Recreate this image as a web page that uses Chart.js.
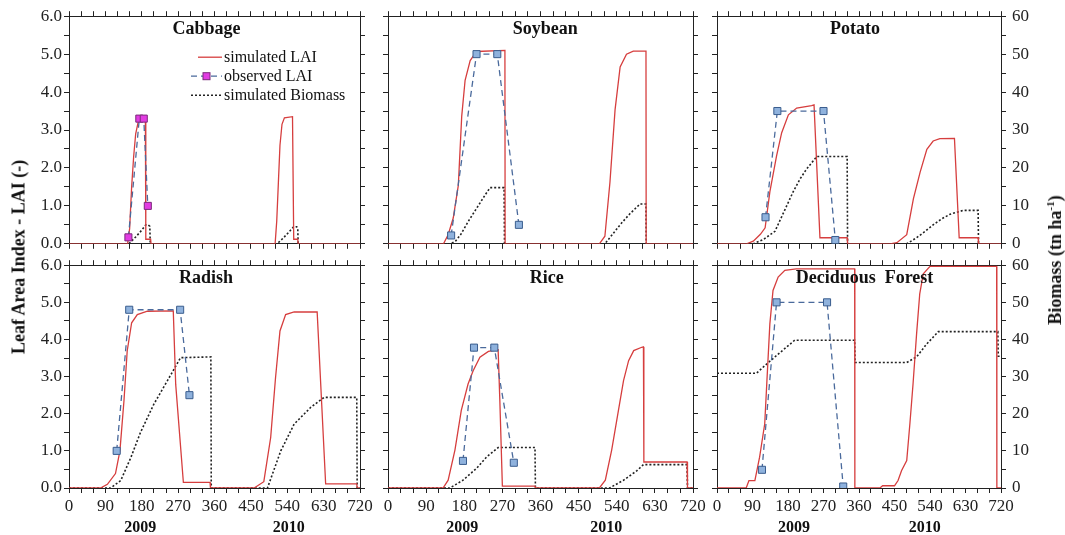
<!DOCTYPE html>
<html>
<head>
<meta charset="utf-8">
<script src="https://cdn.jsdelivr.net/npm/chart.js@4.4.1/dist/chart.umd.min.js"></script>
<style>
  body { margin: 0; background: #fff; width: 1065px; height: 535px; position: relative; overflow: hidden; font-family: "Liberation Serif", serif; }
  canvas { position: absolute; }
  .axis-title { position: absolute; font-weight: bold; font-size: 18px; color: #111; white-space: nowrap;
                transform: translate(-50%, -50%) rotate(-90deg); }
  .axis-title sup { font-size: 11px; }
</style>
</head>
<body>
<canvas id="p1"></canvas>
<canvas id="p2"></canvas>
<canvas id="p3"></canvas>
<canvas id="p4"></canvas>
<canvas id="p5"></canvas>
<canvas id="p6"></canvas>
<div class="axis-title" style="left:19px; top:257px;">Leaf Area Index - LAI (-)</div>
<div class="axis-title" style="left:1055px; top:260px;">Biomass (tn ha<sup>-1</sup>)</div>

<script>
// days since 1 Jan 2009, LAI (-) and biomass (tn/ha)
const dayTicks = [0, 90, 180, 270, 360, 450, 540, 630, 720];
const laiTicks = [0, 1, 2, 3, 4, 5, 6];
const bioTicks = [0, 10, 20, 30, 40, 50, 60];
const years = ['2009', '2010'];
const seriesNames = ['simulated LAI', 'observed LAI', 'simulated Biomass'];

const cabbageLai = [[0,0],[145,0],[150,0.4],[155,1.5],[160,2.3],[165,2.9],[171,3.2],[178,3.27],[189,3.3],[190,0.12],[202,0.12],[203,0],
  [510,0],[514,0.6],[518,1.6],[522,2.6],[527,3.15],[533,3.32],[553,3.35],[556,0.12],[566,0.12],[567,0],[720,0]];
const cabbageObs = [[147,0.17],[174,3.3],[185,3.3],[195,1.0]];
const cabbageBio = [[0,0],[148,0],[165,1.8],[180,3.6],[190,5.0],[196,5.0],[200,4.6],[201,0],
  [515,0],[530,1.5],[545,3.2],[556,4.5],[563,4.5],[566,4.2],[567,0],[720,0]];

const soybeanLai = [[0,0],[131,0],[142,0.24],[154,0.68],[166,1.54],[174,3.36],[182,4.31],[194,4.83],[209,5.07],[276,5.1],[276.5,0],
  [499,0],[512,0.2],[524,1.63],[536,3.53],[548,4.66],[563,5.0],[579,5.08],[609,5.08],[609.5,0],[720,0]];
const soybeanObs = [[149,0.22],[209,5.0],[258,5.0],[309,0.5]];
const soybeanBio = [[0,0],[148,0],[160,0.8],[172,2.5],[190,6],[210,9.5],[230,13],[241,14.8],[274,14.8],[275,0],
  [512,0],[530,2.5],[550,5.3],[570,7.8],[595,10.5],[609,10.5],[609.5,0],[720,0]];

const potatoLai = [[0,0],[75,0],[92,0.07],[110,0.25],[122,0.42],[134,1.37],[151,2.32],[164,2.93],[181,3.4],[202,3.58],[240,3.64],[246,3.66],[261,0.16],[330,0.16],[331,0],
  [439,0],[456,0.03],[481,0.24],[498,1.19],[515,1.89],[532,2.49],[548,2.71],[565,2.77],[602,2.78],[614,0.16],[662,0.16],[663,0],[720,0]];
const potatoObs = [[123,0.7],[153,3.5],[270,3.5],[300,0.1]];
const potatoBio = [[0,0],[92,0],[117,1.1],[147,3.3],[170,8.5],[193,13.7],[210,17],[227,19.7],[253,23],[330,23],[331,0],
  [481,0],[506,1.6],[528,3.3],[548,5.0],[570,6.6],[591,7.8],[624,8.8],[662,8.8],[663,0],[720,0]];

const radishLai = [[0,0],[78,0],[95,0.1],[115,0.39],[126,1.0],[136,2.35],[144,3.69],[155,4.45],[169,4.67],[194,4.76],[258,4.77],[264,2.79],[283,0.15],[349,0.15],[350,0],
  [458,0],[482,0.17],[499,1.36],[511,2.97],[522,4.23],[536,4.67],[557,4.74],[614,4.74],[635,0.11],[712,0.11],[713,0],[720,0]];
const radishObs = [[118,1.0],[149,4.8],[275,4.8],[298,2.5]];
const radishBio = [[0,0],[103,0],[128,2.0],[153,8.2],[177,15.0],[210,22.6],[243,28.8],[276,35.1],[351,35.3],[352,0],
  [491,0],[524,10.0],[557,17.2],[598,21.7],[631,24.4],[712,24.4],[713,0],[720,0]];

const riceLai = [[0,0],[130,0],[142,0.21],[158,1.02],[173,2.09],[189,2.8],[201,3.16],[217,3.52],[237,3.68],[260,3.72],[264,2.36],[270,0.05],[347,0.05],[348,0],
  [499,0],[513,0.21],[528,1.02],[544,2.09],[556,2.89],[568,3.43],[580,3.7],[599,3.79],[603,3.8],[604,0.7],[706,0.7],[707,0],[720,0]];
const riceObs = [[177,0.73],[203,3.78],[251,3.78],[297,0.68]];
const riceBio = [[0,0],[146,0],[177,2.1],[209,5.3],[233,8.4],[260,10.9],[347,10.9],[348,0],
  [523,0],[556,2.1],[587,4.6],[603,6.3],[706,6.3],[707,0],[720,0]];

const forestLai = [[0,0],[74,0],[81,0.2],[96,0.2],[108,0.83],[121,1.73],[127,2.98],[134,4.42],[142,5.32],[155,5.68],[172,5.86],[201,5.9],[349,5.9],[349.5,0],
  [413,0],[420,0.06],[450,0.06],[459,0.2],[468,0.47],[481,0.74],[489,1.73],[497,2.8],[506,4.15],[514,5.23],[523,5.77],[540,5.97],[709,5.97],[709.5,0],[720,0]];
const forestObs = [[114,0.49],[151,5.0],[279,5.0],[320,0.04]];
const forestBio = [[0,30.9],[100,30.9],[125,33.3],[159,36.4],[197,39.8],[349,39.8],[350,33.8],
  [481,33.8],[506,35.3],[531,38.7],[561,42.1],[712,42.1],[713,35.5],[720,35.5]];

const serif = '"Liberation Serif", "Times New Roman", serif';
const ink = '#222';

const panels = [
  { id: 'p1', name: 'Cabbage',          box: [69, 15, 291, 231],  col: 0, row: 0, titleAt: 340, lai: cabbageLai, obs: cabbageObs, bio: cabbageBio, key: true, fill: '#e23ce2', edge: '#7a2a7a' },
  { id: 'p2', name: 'Soybean',          box: [388, 15, 305, 231], col: 1, row: 0, titleAt: 371, lai: soybeanLai, obs: soybeanObs, bio: soybeanBio },
  { id: 'p3', name: 'Potato',           box: [717, 15, 284, 231], col: 2, row: 0, titleAt: 350, lai: potatoLai,  obs: potatoObs,  bio: potatoBio },
  { id: 'p4', name: 'Radish',           box: [69, 263, 291, 225], col: 0, row: 1, titleAt: 339, lai: radishLai,  obs: radishObs,  bio: radishBio,  yearsAt: [176, 544] },
  { id: 'p5', name: 'Rice',             box: [388, 263, 305, 225],col: 1, row: 1, titleAt: 375, lai: riceLai,    obs: riceObs,    bio: riceBio,    yearsAt: [175, 515] },
  { id: 'p6', name: 'Deciduous  Forest',box: [717, 263, 284, 225],col: 2, row: 1, titleAt: 374, lai: forestLai,  obs: forestObs,  bio: forestBio,  yearsAt: [195, 527] }
];

const xy = pts => pts.map(([x, y]) => ({ x, y }));

// titles, year captions and the key drawn on top of each panel
const panelText = {
  id: 'panelText',
  afterDatasetsDraw(chart, args, opts) {
    const { ctx, chartArea: a, scales } = chart;
    ctx.save();
    ctx.fillStyle = '#111';
    ctx.textAlign = 'center';
    ctx.textBaseline = 'middle';
    ctx.font = 'bold 18px ' + serif;
    ctx.fillText(opts.title, scales.x.getPixelForValue(opts.titleAt), a.top + 13);
    if (opts.yearsAt) {
      ctx.font = 'bold 16px ' + serif;
      opts.yearsAt.forEach((d, i) => ctx.fillText(years[i], scales.x.getPixelForValue(d), a.bottom + 40));
    }
    if (opts.key) {
      const [obs, lai, bio] = chart.data.datasets;
      const x0 = a.left + 155, y0 = a.top + 41;
      [lai, obs, bio].forEach((ds, i) => {
        const y = y0 + i * 19;
        ctx.strokeStyle = ds.borderColor;
        ctx.lineWidth = ds.borderWidth;
        ctx.setLineDash(ds.borderDash || []);
        ctx.beginPath();
        ctx.moveTo(x0 - (ds === lai ? 26 : 33), y);
        ctx.lineTo(x0 - 2, y);
        ctx.stroke();
        ctx.setLineDash([]);
        if (ds === obs) {
          ctx.fillStyle = ds.pointBackgroundColor;
          ctx.strokeStyle = ds.pointBorderColor;
          ctx.lineWidth = 1;
          ctx.fillRect(x0 - 21, y - 3.5, 7, 7);
          ctx.strokeRect(x0 - 21, y - 3.5, 7, 7);
        }
        ctx.fillStyle = '#111';
        ctx.font = '16px ' + serif;
        ctx.textAlign = 'left';
        ctx.fillText(ds.label, x0, y + 1);
      });
    }
    ctx.restore();
  }
};
Chart.register(panelText);

function dayAxis(pos, withLabels, size) {
  return {
    type: 'linear', position: pos, min: 0, max: 720,
    ticks: {
      stepSize: 30, autoSkip: false, maxRotation: 0, padding: 3,
      font: { family: serif, size: 17 }, color: ink,
      callback: v => (withLabels && dayTicks.includes(v)) ? String(v) : ''
    },
    grid: { drawOnChartArea: false, tickLength: 5, color: ink },
    border: { color: ink },
    afterFit: s => { s.height = size; }
  };
}

function valueAxis(pos, max, step, labels, fmt, size) {
  return {
    type: 'linear', position: pos, min: 0, max: max,
    ticks: {
      stepSize: step, autoSkip: false, padding: pos === 'left' ? 2 : 6,
      font: { family: serif, size: 17 }, color: ink,
      callback: v => (fmt && labels.includes(v)) ? fmt(v) : ''
    },
    grid: { drawOnChartArea: false, tickLength: 5, color: ink },
    border: { color: ink },
    afterFit: s => { s.width = size; }
  };
}

panels.forEach(p => {
  const [bx, by, bw, bh] = p.box;
  const L = p.col === 0 ? 69 : 16;
  const R = p.col === 2 ? 45 : 16;
  const T = p.row === 0 ? 15 : 14;
  const B = p.row === 1 ? 47 : 14;
  const cv = document.getElementById(p.id);
  cv.width = L + bw + R;
  cv.height = T + bh + B;
  cv.style.left = (bx - L) + 'px';
  cv.style.top = (by - T) + 'px';

  new Chart(cv, {
    type: 'line',
    data: {
      datasets: [
        {
          label: seriesNames[1], data: xy(p.obs), yAxisID: 'y',
          borderColor: '#4a6a9c', borderWidth: 1.3, borderDash: [6, 4],
          pointStyle: 'rect', pointRadius: 5,
          pointBackgroundColor: p.fill || '#8fb2dd', pointBorderColor: p.edge || '#3a5d8e', pointBorderWidth: 1
        },
        {
          label: seriesNames[0], data: xy(p.lai), yAxisID: 'y',
          borderColor: 'rgb(214,62,62)', borderWidth: 1.3, pointRadius: 0
        },
        {
          label: seriesNames[2], data: xy(p.bio), yAxisID: 'y2',
          borderColor: '#222', borderWidth: 1.6, borderDash: [2, 2], pointRadius: 0
        }
      ]
    },
    options: {
      responsive: false,
      animation: false,
      layout: { padding: 0 },
      scales: {
        x: dayAxis('bottom', p.row === 1, B),
        x2: dayAxis('top', false, T),
        y: valueAxis('left', 6, 0.5, laiTicks, p.col === 0 ? v => v.toFixed(1) : null, L),
        y2: valueAxis('right', 60, 5, bioTicks, p.col === 2 ? v => String(v) : null, R)
      },
      plugins: {
        legend: { display: false },
        tooltip: { enabled: false },
        panelText: { title: p.name, titleAt: p.titleAt, yearsAt: p.yearsAt, key: !!p.key }
      }
    }
  });
});
</script>
</body>
</html>
